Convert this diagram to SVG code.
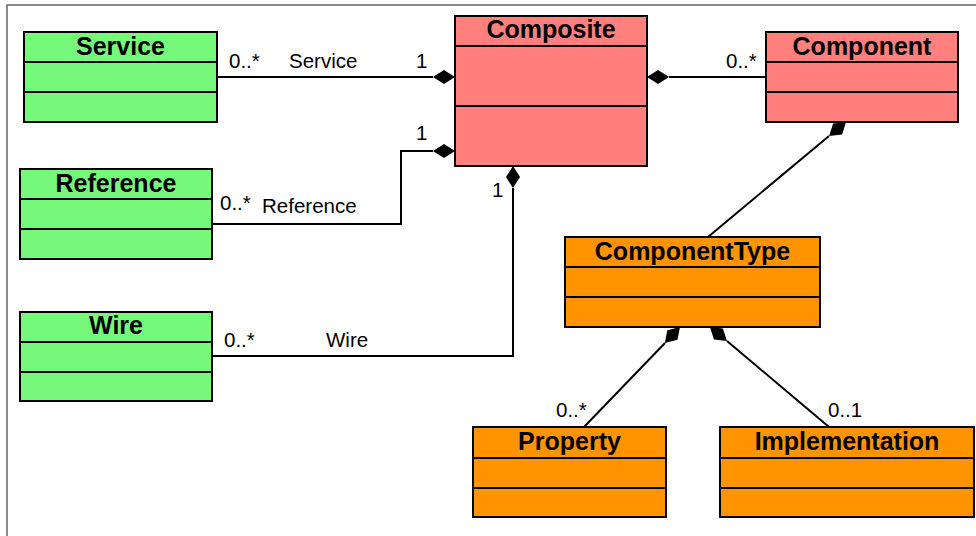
<svg xmlns="http://www.w3.org/2000/svg" width="976" height="536" viewBox="0 0 976 536">
<style>
.box{stroke:#000;stroke-width:2}
.g{fill:#76F87A}
.r{fill:#FF807C}
.o{fill:#FF9300}
.div{stroke:#000;stroke-width:2}
.t{font-family:"Liberation Sans",Arial,sans-serif;font-weight:bold;font-size:25px;text-anchor:middle;fill:#000}
.l{font-family:"Liberation Sans",Arial,sans-serif;font-size:20.5px;fill:#000}
.c{fill:none;stroke:#000;stroke-width:2}
.d{fill:#000;stroke:none}
</style>
<rect width="976" height="536" fill="#fff"/>
<path d="M7,536 V5 H976" fill="none" stroke="#666" stroke-width="1.5"/>
<g id="connectors">
<line class="c" x1="217" y1="77" x2="433" y2="77"/>
<polygon class="d" points="433,77 444,70 455,77 444,84"/>
<polyline class="c" points="212,224 401,224 401,151 433,151"/>
<polygon class="d" points="433,151 444,144 455,151 444,158"/>
<polyline class="c" points="212,356 513,356 513,188"/>
<polygon class="d" points="513,166 520,177 513,188 506,177"/>
<line class="c" x1="669" y1="77" x2="766" y2="77"/>
<polygon class="d" points="647,77 658,70 669,77 658,84"/>
<line class="c" x1="829" y1="136" x2="708" y2="237"/>
<polygon class="d" points="846,122 842.1,134.4 829.1,136.1 833.1,123.6"/>
<line class="c" x1="665" y1="343" x2="584" y2="427"/>
<polygon class="d" points="680,327 677.5,339.8 664.9,343 667.3,330.2"/>
<line class="c" x1="727" y1="341" x2="829" y2="427"/>
<polygon class="d" points="710,327 722.9,328.6 726.9,341.1 713.9,339.4"/>
<text class="l" x="229" y="68">0..*</text>
<text class="l" x="289" y="68">Service</text>
<text class="l" x="416" y="68">1</text>
<text class="l" x="416" y="140">1</text>
<text class="l" x="220" y="210">0..*</text>
<text class="l" x="262" y="213">Reference</text>
<text class="l" x="224" y="347">0..*</text>
<text class="l" x="326" y="347">Wire</text>
<text class="l" x="492" y="197">1</text>
<text class="l" x="726" y="68">0..*</text>
<text class="l" x="556" y="417">0..*</text>
<text class="l" x="828" y="417">0..1</text>
</g>
<g id="service">
<rect class="box g" x="24" y="32" width="193" height="90"/>
<line class="div" x1="24" y1="62" x2="217" y2="62"/>
<line class="div" x1="24" y1="92" x2="217" y2="92"/>
<text class="t" x="120.5" y="55">Service</text>
</g>
<g id="reference">
<rect class="box g" x="20" y="169" width="192" height="90"/>
<line class="div" x1="20" y1="199" x2="212" y2="199"/>
<line class="div" x1="20" y1="229" x2="212" y2="229"/>
<text class="t" x="116" y="191.5">Reference</text>
</g>
<g id="wire">
<rect class="box g" x="20" y="312" width="192" height="89"/>
<line class="div" x1="20" y1="342" x2="212" y2="342"/>
<line class="div" x1="20" y1="372" x2="212" y2="372"/>
<text class="t" x="116" y="333.5">Wire</text>
</g>
<g id="composite">
<rect class="box r" x="455" y="16" width="192" height="150"/>
<line class="div" x1="455" y1="46" x2="647" y2="46"/>
<line class="div" x1="455" y1="106" x2="647" y2="106"/>
<text class="t" x="551" y="38">Composite</text>
</g>
<g id="component">
<rect class="box r" x="766" y="32" width="192" height="90"/>
<line class="div" x1="766" y1="62" x2="958" y2="62"/>
<line class="div" x1="766" y1="92" x2="958" y2="92"/>
<text class="t" x="862" y="54.5">Component</text>
</g>
<g id="componenttype">
<rect class="box o" x="565" y="237" width="255" height="90"/>
<line class="div" x1="565" y1="267" x2="820" y2="267"/>
<line class="div" x1="565" y1="297" x2="820" y2="297"/>
<text class="t" x="692.5" y="260">ComponentType</text>
</g>
<g id="property">
<rect class="box o" x="473" y="427" width="193" height="90"/>
<line class="div" x1="473" y1="458" x2="666" y2="458"/>
<line class="div" x1="473" y1="488" x2="666" y2="488"/>
<text class="t" x="569.5" y="450">Property</text>
</g>
<g id="implementation">
<rect class="box o" x="720" y="427" width="254" height="90"/>
<line class="div" x1="720" y1="458" x2="974" y2="458"/>
<line class="div" x1="720" y1="488" x2="974" y2="488"/>
<text class="t" x="847" y="450">Implementation</text>
</g>
</svg>
